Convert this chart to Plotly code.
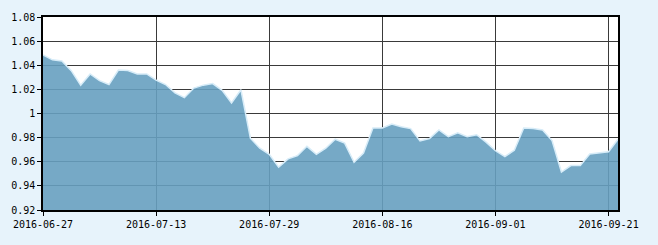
import plotly.graph_objects as go

dates = (
    ["2016-06-%02d" % d for d in [27, 28, 29, 30]]
    + ["2016-07-%02d" % d for d in [1, 4, 5, 6, 7, 8, 11, 12, 13, 14, 15, 18, 19, 20, 21, 22, 25, 26, 27, 28, 29]]
    + ["2016-08-%02d" % d for d in [1, 2, 3, 4, 5, 8, 9, 10, 11, 12, 15, 16, 17, 18, 19, 22, 23, 24, 25, 26, 29, 30, 31]]
    + ["2016-09-%02d" % d for d in [1, 2, 5, 6, 7, 8, 9, 12, 13, 14, 19, 20, 21, 22]]
)

values = [
    1.0485, 1.0445, 1.0435, 1.0355, 1.0235, 1.0328, 1.0272, 1.0240, 1.0360, 1.0357,
    1.0328, 1.0328, 1.0277, 1.0240, 1.0171, 1.0131, 1.0211, 1.0235, 1.0248, 1.0192,
    1.0088, 1.0197, 0.9795, 0.9712, 0.9661, 0.9555, 0.9624, 0.9651, 0.9728, 0.9661,
    0.9712, 0.9787, 0.9755, 0.9595, 0.9672, 0.9880, 0.9880, 0.9912, 0.9891, 0.9875,
    0.9773, 0.9792, 0.9864, 0.9808, 0.9840, 0.9808, 0.9824, 0.9763, 0.9691, 0.9643,
    0.9696, 0.9880, 0.9875, 0.9864, 0.9776, 0.9515, 0.9568, 0.9568, 0.9664, 0.9672,
    0.9683, 0.9787,
]

x_ticks = ["2016-06-27", "2016-07-13", "2016-07-29", "2016-08-16", "2016-09-01", "2016-09-21"]
y_ticks = [0.92, 0.94, 0.96, 0.98, 1.00, 1.02, 1.04, 1.06, 1.08]
y_labels = ["0.92", "0.94", "0.96", "0.98", "1", "1.02", "1.04", "1.06", "1.08"]

fig = go.Figure()
fig.add_trace(go.Scatter(
    x=dates, y=values, mode="lines",
    fill="tozeroy",
    fillcolor="rgba(103,160,192,0.9)",
    line=dict(color="rgba(215,236,248,1)", width=1.5),
    hoverinfo="skip",
))

font = dict(family="DejaVu Sans Mono", size=10, color="#000000")

fig.update_layout(
    width=658, height=245,
    margin=dict(l=39, r=40, t=11, b=35),
    paper_bgcolor="#E7F3FB",
    plot_bgcolor="#FFFFFF",
    showlegend=False,
    font=font,
    xaxis=dict(
        type="category", categoryorder="array", categoryarray=dates,
        range=[0, len(dates) - 1],
        tickmode="array", tickvals=x_ticks, ticktext=x_ticks,
        showgrid=True, gridcolor="#3a3a3a", gridwidth=1,
        showline=True, linecolor="#000000", linewidth=1.5, mirror=True,
        ticks="outside", ticklen=4, tickcolor="#000000",
        tickangle=0, zeroline=False, tickfont=font,
    ),
    yaxis=dict(
        range=[0.92, 1.08],
        tickmode="array", tickvals=y_ticks, ticktext=y_labels,
        showgrid=True, gridcolor="#3a3a3a", gridwidth=1,
        showline=True, linecolor="#000000", linewidth=1.5, mirror=True,
        ticks="outside", ticklen=4, tickcolor="#000000",
        zeroline=False, tickfont=font,
    ),
)

fig.write_html("out.html")
